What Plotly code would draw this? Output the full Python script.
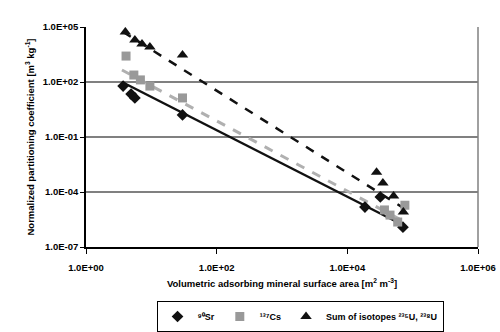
import plotly.graph_objects as go

# Data
sr_x = [3.7, 4.9, 5.6, 30, 1.86e4, 3.2e4, 7.1e4]
sr_y = [60, 22, 13.5, 1.6, 1.5e-5, 5.4e-5, 1.2e-6]
cs_x = [4.1, 5.4, 6.8, 9.5, 30, 3.7e4, 4.5e4, 5.9e4, 7.6e4]
cs_y = [2600, 240, 130, 60, 13.5, 1.05e-5, 5.5e-6, 2.3e-6, 1.9e-5]
sum_x = [4.0, 5.6, 7.2, 9.5, 30, 2.8e4, 3.5e4, 5.1e4, 7.2e4]
sum_y = [5.4e4, 1.95e4, 1.17e4, 8.1e3, 2.95e3, 1.2e-3, 3.1e-4, 6.0e-5, 8.1e-6]

# Trendline endpoints
sr_fit_x = [3.55, 7.6e4]
sr_fit_y = [100, 1.4e-6]
cs_fit_x = [3.55, 7.6e4]
cs_fit_y = [450, 2.3e-6]
sum_fit_x = [3.7, 7.6e4]
sum_fit_y = [5.4e4, 1.2e-5]

xticks = [1, 1e2, 1e4, 1e6]
xticktext = ["1.0E+00", "1.0E+02", "1.0E+04", "1.0E+06"]
yticks = [1e-7, 1e-4, 1e-1, 1e2, 1e5]
yticktext = ["1.0E-07", "1.0E-04", "1.0E-01", "1.0E+02", "1.0E+05"]

fig = go.Figure()
fig.add_trace(go.Scatter(x=sr_fit_x, y=sr_fit_y, mode="lines", showlegend=False,
                         line=dict(color="#111111", width=2.5)))
fig.add_trace(go.Scatter(x=cs_fit_x, y=cs_fit_y, mode="lines", showlegend=False,
                         line=dict(color="#b0b0b0", width=3, dash="dash")))
fig.add_trace(go.Scatter(x=sum_fit_x, y=sum_fit_y, mode="lines", showlegend=False,
                         line=dict(color="#111111", width=2.5, dash="dash")))
fig.add_trace(go.Scatter(x=sr_x, y=sr_y, mode="markers", name="⁹⁰Sr",
                         marker=dict(symbol="diamond", size=9, color="#111111")))
fig.add_trace(go.Scatter(x=cs_x, y=cs_y, mode="markers", name="¹³⁷Cs",
                         marker=dict(symbol="square", size=9, color="#999999")))
fig.add_trace(go.Scatter(x=sum_x, y=sum_y, mode="markers",
                         name="Sum of isotopes ²³⁵U, ²³⁸U",
                         marker=dict(symbol="triangle-up", size=10, color="#111111")))

font = dict(family="Liberation Sans, Arial", size=9.5, color="#000000", weight="bold")
lfont = dict(family="Liberation Sans, Arial", size=9, color="#000000", weight="bold")
fig.update_layout(
    width=500, height=332,
    margin=dict(l=86, r=22, t=27, b=85),
    paper_bgcolor="white", plot_bgcolor="white",
    font=font,
    xaxis=dict(type="log", range=[0, 6], tickvals=xticks, ticktext=xticktext,
               showgrid=False, showline=True, linecolor="#000000", linewidth=1.5,
               ticks="outside", ticklen=5, tickcolor="#000000", mirror=False,
               zeroline=False, tickfont=font, automargin=False,
               ticklabelstandoff=6,
               title=dict(text="Volumetric adsorbing mineral surface area [m<sup>2</sup> m<sup>-3</sup>]",
                          font=font, standoff=8)),
    yaxis=dict(type="log", range=[-7, 5], tickvals=yticks, ticktext=yticktext,
               showgrid=True, gridcolor="#808080", gridwidth=1.5,
               showline=True, linecolor="#000000", linewidth=1.5,
               ticks="outside", ticklen=4, tickcolor="#000000",
               zeroline=False, tickfont=font, automargin=False,
               title=dict(text="Normalized partitioning coefficient [m<sup>3</sup> kg<sup>-1</sup>]",
                          font=font, standoff=6)),
    legend=dict(orientation="h", x=0.546, xanchor="center",
                yref="container", y=0.0, yanchor="bottom",
                bordercolor="#000000", borderwidth=1, font=lfont,
                itemwidth=30, tracegroupgap=0),
    shapes=[dict(type="line", xref="paper", yref="paper", x0=1, x1=1, y0=0, y1=1,
                 line=dict(color="#808080", width=1.5))],
)
fig.write_html("out.html")
